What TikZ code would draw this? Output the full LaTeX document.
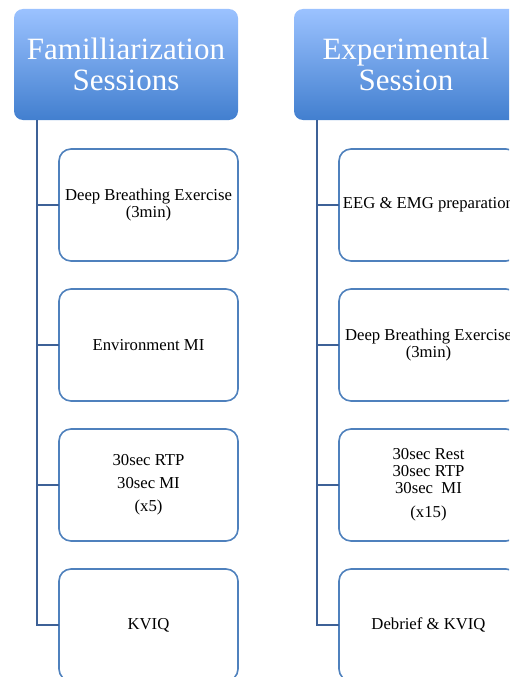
\documentclass[tikz,border=0pt]{standalone}
\usepackage{fontspec}
\setmainfont{Liberation Serif}
\usetikzlibrary{positioning}
\definecolor{headtop}{RGB}{155,194,255}
\definecolor{headbot}{RGB}{66,127,207}
\definecolor{boxline}{RGB}{79,129,189}
\definecolor{trunkblue}{RGB}{61,97,151}

\begin{document}
\begin{tikzpicture}[
  x=1pt,y=-1pt,
  node distance=28pt,
  head/.style={rounded corners=9pt,top color=headtop,bottom color=headbot,
    minimum width=224pt,minimum height=111pt,align=center,text=white,
    outer sep=0pt,font=\fontsize{31}{31}\selectfont},
  item/.style={draw=boxline,line width=1.6pt,rounded corners=12pt,fill=white,
    minimum width=179pt,minimum height=112pt,align=center,outer sep=0pt,
    font=\fontsize{16.7}{15}\selectfont},
  link/.style={draw=trunkblue,line width=2.4pt}
]
\useasboundingbox (0,0) rectangle (509,677);
\clip (0,0) rectangle (509,677);

% familiarization column
\node[head] (famhead) at (126,64.5) {Familliarization\\Sessions};
\node[item] (fam1) at (148.5,205) {Deep Breathing Exercise\\(3min)};
\node[item,below=of fam1] (fam2) {Environment MI};
\node[item,below=of fam2] (fam3) {30sec RTP\\[8pt]30sec MI\\[8pt](x5)};
\node[item,below=of fam3] (fam4) {KVIQ};
\coordinate (famroot) at ([xshift=23pt]famhead.south west);
\draw[link] (famroot) |- (fam4.west);
\draw[link] (famroot) |- (fam1.west);
\draw[link] (famroot) |- (fam2.west);
\draw[link] (famroot) |- (fam3.west);

% experimental column
\node[head] (exphead) at (406,64.5) {Experimental\\Session};
\node[item] (exp1) at (428.5,205) {EEG \& EMG preparation};
\node[item,below=of exp1] (exp2) {Deep Breathing Exercise\\(3min)};
\node[item,below=of exp2] (exp3) {30sec Rest\\[2pt]30sec RTP\\[2pt]30sec\ \ MI\\[9pt](x15)};
\node[item,below=of exp3] (exp4) {Debrief \& KVIQ};
\coordinate (exproot) at ([xshift=23pt]exphead.south west);
\draw[link] (exproot) |- (exp4.west);
\draw[link] (exproot) |- (exp1.west);
\draw[link] (exproot) |- (exp2.west);
\draw[link] (exproot) |- (exp3.west);
\end{tikzpicture}
\end{document}
